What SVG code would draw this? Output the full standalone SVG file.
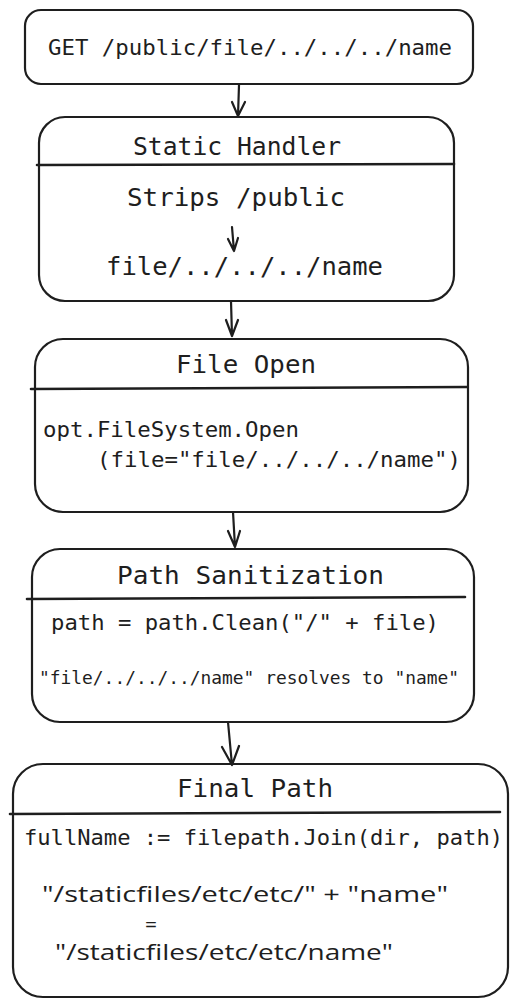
<svg xmlns="http://www.w3.org/2000/svg" width="517" height="1006" viewBox="0 0 517 1006">
<style>
  .box { fill: none; stroke: #1e1e1e; stroke-width: 2.2; stroke-linecap: round; stroke-linejoin: round; }
  .div { fill: none; stroke: #1e1e1e; stroke-width: 2.6; stroke-linecap: round; }
  .mono { font-family: "DejaVu Sans Mono", "Liberation Mono", monospace; fill: #1e1e1e; }
  .sans { font-family: "Open Sans", "Liberation Sans", Arial, sans-serif; fill: #1e1e1e; }
  .t { font-size: 24px; }
  .b { font-size: 22px; }
  .arr { fill: none; stroke: #1e1e1e; stroke-width: 2.2; stroke-linecap: round; stroke-linejoin: round; }
</style>
<rect width="517" height="1006" fill="#ffffff"/>

<g id="request">
  <rect class="box" x="25" y="10" width="448" height="74" rx="16"/>
  <text class="mono b" x="48" y="55" textLength="404" lengthAdjust="spacingAndGlyphs">GET /public/file/../../../name</text>
</g>

<g id="static-handler">
  <rect class="box" x="39" y="117" width="415" height="184" rx="26"/>
  <path class="div" d="M37 165 L454 164"/>
  <text class="mono t" x="133" y="155" textLength="208" lengthAdjust="spacingAndGlyphs">Static Handler</text>
  <text class="mono t" x="127" y="206" textLength="218" lengthAdjust="spacingAndGlyphs">Strips /public</text>
  <path class="arr" d="M232 227 L234 251 M228 239 L234 251 L238 238"/>
  <text class="mono t" x="106" y="275" textLength="277" lengthAdjust="spacingAndGlyphs">file/../../../name</text>
</g>

<g id="file-open">
  <rect class="box" x="35" y="339" width="433" height="173" rx="28"/>
  <path class="div" d="M31 389 L467 387"/>
  <text class="mono t" x="176" y="373" textLength="140" lengthAdjust="spacingAndGlyphs">File Open</text>
  <text class="mono b" x="43" y="437" textLength="256" lengthAdjust="spacingAndGlyphs">opt.FileSystem.Open</text>
  <text class="mono b" x="97" y="467" textLength="364" lengthAdjust="spacingAndGlyphs">(file="file/../../../name")</text>
</g>

<g id="path-sanitization">
  <rect class="box" x="32" y="549" width="442" height="173" rx="28"/>
  <path class="div" d="M27 599 L465 597"/>
  <text class="mono t" x="117" y="584" textLength="267" lengthAdjust="spacingAndGlyphs">Path Sanitization</text>
  <text class="mono b" x="51" y="630" textLength="388" lengthAdjust="spacingAndGlyphs">path = path.Clean("/" + file)</text>
  <text class="mono" font-size="18" x="39" y="684" textLength="420" lengthAdjust="spacingAndGlyphs">"file/../../../name" resolves to "name"</text>
</g>

<g id="final-path">
  <rect class="box" x="13" y="764" width="495" height="233" rx="30"/>
  <path class="div" d="M10 814 L500 812"/>
  <text class="mono t" x="177" y="797" textLength="156" lengthAdjust="spacingAndGlyphs">Final Path</text>
  <text class="mono b" x="24" y="845" textLength="479" lengthAdjust="spacingAndGlyphs">fullName := filepath.Join(dir, path)</text>
  <text class="sans" font-size="21" x="42" y="902" textLength="406" lengthAdjust="spacingAndGlyphs">"/staticfiles/etc/etc/" + "name"</text>
  <text class="sans" font-size="21" x="151" y="932" text-anchor="middle">=</text>
  <text class="sans" font-size="21" x="55" y="960" textLength="338" lengthAdjust="spacingAndGlyphs">"/staticfiles/etc/etc/name"</text>
</g>

<g id="connectors">
  <path class="arr" d="M239 85 L238 116 M232 102 L238 116 M245 102 L238 116"/>
  <path class="arr" d="M231 301 L232 336 M226 320 L232 336 M238 320 L232 336"/>
  <path class="arr" d="M233 512 L235 547 M228 531 L235 547 M240 531 L235 547"/>
  <path class="arr" d="M228 722 L232 765 M222 747 L232 765 M239 746 L232 765"/>
</g>
</svg>
